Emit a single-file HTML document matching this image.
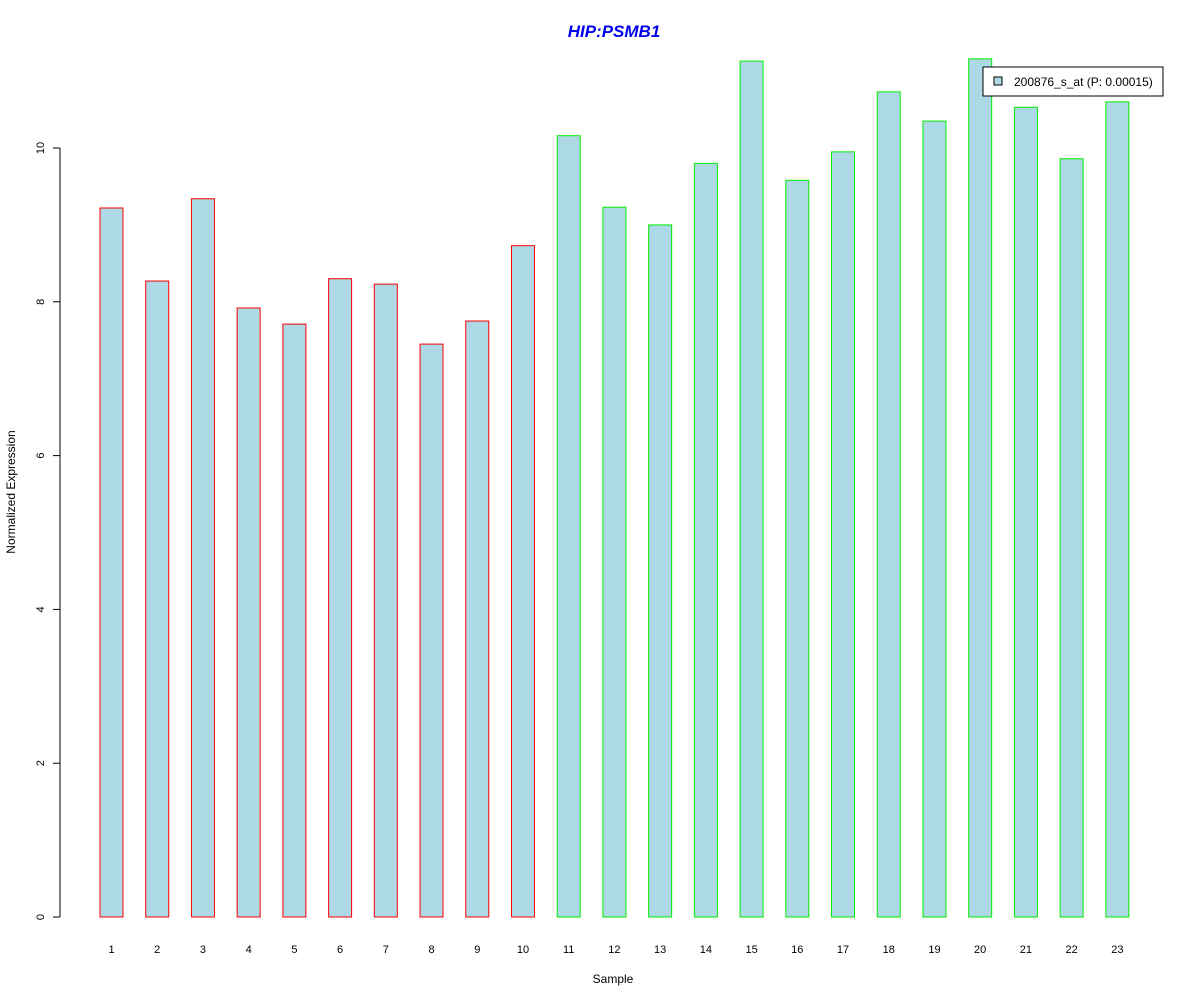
<!DOCTYPE html>
<html><head><meta charset="utf-8"><style>
body{margin:0;background:#fff;}
svg{display:block;font-family:"Liberation Sans",Arial,sans-serif;}
</style></head><body>
<svg id="chart" width="1200" height="1000">
<rect x="0" y="0" width="1200" height="1000" fill="#fff"/>
<text x="614" y="37" text-anchor="middle" font-size="17" font-weight="bold" font-style="italic" fill="#0000ee">HIP:PSMB1</text>
<text x="613" y="983" text-anchor="middle" font-size="12">Sample</text>
<text transform="translate(15,492) rotate(-90)" text-anchor="middle" font-size="12">Normalized Expression</text>
<g id="yaxis"></g>
<g id="bars"></g>
<g id="xlabels"></g>
<g>
<rect x="983" y="67" width="180" height="29" fill="#fff" stroke="#000"/>
<rect x="994" y="77" width="8" height="8" fill="#add8e6" stroke="#000"/>
<text x="1014" y="86" font-size="12">200876_s_at (P: 0.00015)</text>
</g>
</svg>
<script>
const categories=["1","2","3","4","5","6","7","8","9","10","11","12","13","14","15","16","17","18","19","20","21","22","23"];
const values=[9.22,8.27,9.34,7.92,7.71,8.30,8.23,7.45,7.75,8.73,10.16,9.23,9.00,9.80,11.13,9.58,9.95,10.73,10.35,11.16,10.53,9.86,10.60];
const groups=["a","a","a","a","a","a","a","a","a","a","b","b","b","b","b","b","b","b","b","b","b","b","b"];
const yTicks=[0,2,4,6,8,10];
const NS="http://www.w3.org/2000/svg";
function y(v){return 917-v*76.9;}
function xc(i){return 111.5+i*45.72;}
const bw=23;
const bars=document.getElementById('bars');
values.forEach((v,i)=>{
 const r=document.createElementNS(NS,'rect');
 r.setAttribute('x',xc(i)-bw/2);r.setAttribute('y',y(v));
 r.setAttribute('width',bw);r.setAttribute('height',y(0)-y(v));
 r.setAttribute('fill','#add8e6');
 r.setAttribute('stroke',groups[i]==='a'?'#ff0000':'#00ee00');
 
 
 bars.appendChild(r);
});
const xl=document.getElementById('xlabels');
categories.forEach((c,i)=>{
 const t=document.createElementNS(NS,'text');
 t.setAttribute('x',xc(i));t.setAttribute('y',953);
 t.setAttribute('text-anchor','middle');t.setAttribute('font-size','11');
 t.textContent=c;
 
 
 xl.appendChild(t);
});
const ya=document.getElementById('yaxis');
const ln=document.createElementNS(NS,'line');
ln.setAttribute('x1',60);ln.setAttribute('x2',60);ln.setAttribute('y1',y(0));ln.setAttribute('y2',y(10));ln.setAttribute('stroke','#000');


ya.appendChild(ln);
yTicks.forEach(v=>{
 const l=document.createElementNS(NS,'line');
 l.setAttribute('x1',53);l.setAttribute('x2',60);l.setAttribute('y1',y(v));l.setAttribute('y2',y(v));l.setAttribute('stroke','#000');
 
 
 ya.appendChild(l);
 const t=document.createElementNS(NS,'text');
 t.setAttribute('transform','translate(44,'+y(v)+') rotate(-90)');
 t.setAttribute('text-anchor','middle');t.setAttribute('font-size','11');
 t.textContent=v;
 
 
 ya.appendChild(t);
});
</script>
</body></html>
